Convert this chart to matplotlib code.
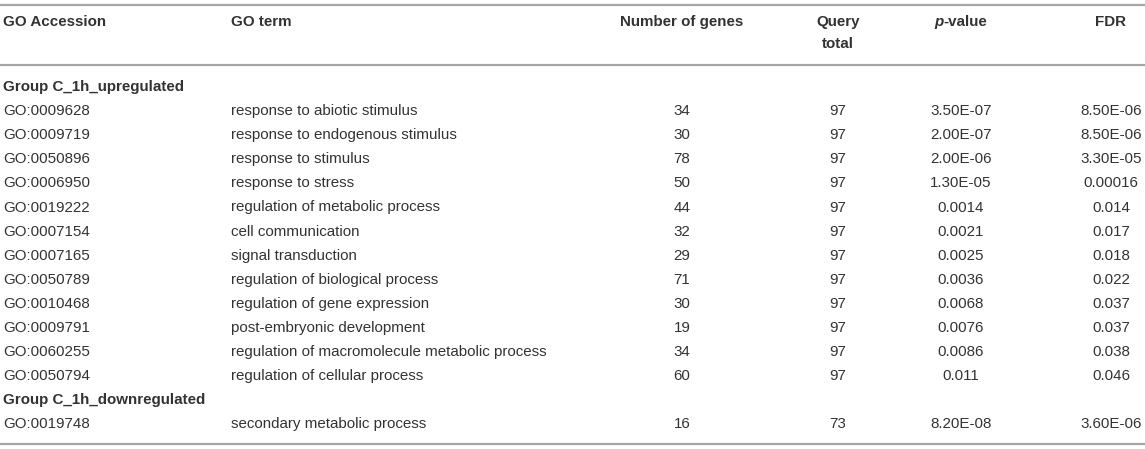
import matplotlib
matplotlib.use("Agg")
import matplotlib.pyplot as plt

headers = ["GO Accession", "GO term", "Number of genes", "Query\ntotal", "p-value", "FDR"]

group_up = "Group C_1h_upregulated"
up_accession = ["GO:0009628", "GO:0009719", "GO:0050896", "GO:0006950", "GO:0019222",
                "GO:0007154", "GO:0007165", "GO:0050789", "GO:0010468", "GO:0009791",
                "GO:0060255", "GO:0050794"]
up_term = ["response to abiotic stimulus", "response to endogenous stimulus",
           "response to stimulus", "response to stress", "regulation of metabolic process",
           "cell communication", "signal transduction", "regulation of biological process",
           "regulation of gene expression", "post-embryonic development",
           "regulation of macromolecule metabolic process", "regulation of cellular process"]
up_genes = [34, 30, 78, 50, 44, 32, 29, 71, 30, 19, 34, 60]
up_total = [97] * 12
up_pvalue = ["3.50E-07", "2.00E-07", "2.00E-06", "1.30E-05", "0.0014", "0.0021",
             "0.0025", "0.0036", "0.0068", "0.0076", "0.0086", "0.011"]
up_fdr = ["8.50E-06", "8.50E-06", "3.30E-05", "0.00016", "0.014", "0.017",
          "0.018", "0.022", "0.037", "0.037", "0.038", "0.046"]

group_down = "Group C_1h_downregulated"
down_accession = ["GO:0019748"]
down_term = ["secondary metabolic process"]
down_genes = [16]
down_total = [73]
down_pvalue = ["8.20E-08"]
down_fdr = ["3.60E-06"]

W, H = 1145, 449
fig = plt.figure(figsize=(W / 100, H / 100), dpi=100)
ax = fig.add_axes([0, 0, 1, 1])
ax.set_xlim(0, W)
ax.set_ylim(H, 0)
ax.axis("off")

FONT = "Liberation Sans"
FS = 10.9
COLOR = "#333333"
LINE = "#a6a6a6"

col_x = [3, 231, 682, 838, 961, 1111]
col_ha = ["left", "left", "center", "center", "center", "center"]

# rules
for y in (4.5, 64.5, 443.5):
    ax.plot([0, W], [y, y], color=LINE, lw=1.6, solid_capstyle="butt")

# header
for i, h in enumerate(headers):
    if i == 3:
        top, bottom = h.split("\n")
        ax.text(col_x[i], 22, top, ha="center", va="center", fontsize=FS,
                fontweight="bold", family=FONT, color=COLOR)
        ax.text(col_x[i], 44, bottom, ha="center", va="center", fontsize=FS,
                fontweight="bold", family=FONT, color=COLOR)
    elif i == 4:
        t1 = ax.text(0, 22, h[0], fontsize=FS, fontweight="bold", fontstyle="italic",
                     family=FONT, color=COLOR, va="center", ha="left")
        t2 = ax.text(0, 22, h[1:], fontsize=FS, fontweight="bold", family=FONT,
                     color=COLOR, va="center", ha="left")
    else:
        ax.text(col_x[i], 22, h, ha=col_ha[i], va="center", fontsize=FS,
                fontweight="bold", family=FONT, color=COLOR)

fig.canvas.draw()
r = fig.canvas.get_renderer()
w1 = t1.get_window_extent(r).width
w2 = t2.get_window_extent(r).width
start = col_x[4] - (w1 + w2) / 2
t1.set_x(start)
t2.set_x(start + w1)

y0 = 87
dy = 24.1
rows = [("group", group_up)]
for a, t, g, q, p, f in zip(up_accession, up_term, up_genes, up_total, up_pvalue, up_fdr):
    rows.append(("row", (a, t, str(g), str(q), p, f)))
rows.append(("group", group_down))
for a, t, g, q, p, f in zip(down_accession, down_term, down_genes, down_total, down_pvalue, down_fdr):
    rows.append(("row", (a, t, str(g), str(q), p, f)))

for k, (kind, content) in enumerate(rows):
    y = y0 + k * dy
    if kind == "group":
        ax.text(col_x[0], y, content, ha="left", va="center", fontsize=FS,
                fontweight="bold", family=FONT, color=COLOR)
    else:
        for i, val in enumerate(content):
            ax.text(col_x[i], y, val, ha=col_ha[i], va="center", fontsize=FS,
                    family=FONT, color=COLOR)

fig.savefig("out.png", dpi=100)
